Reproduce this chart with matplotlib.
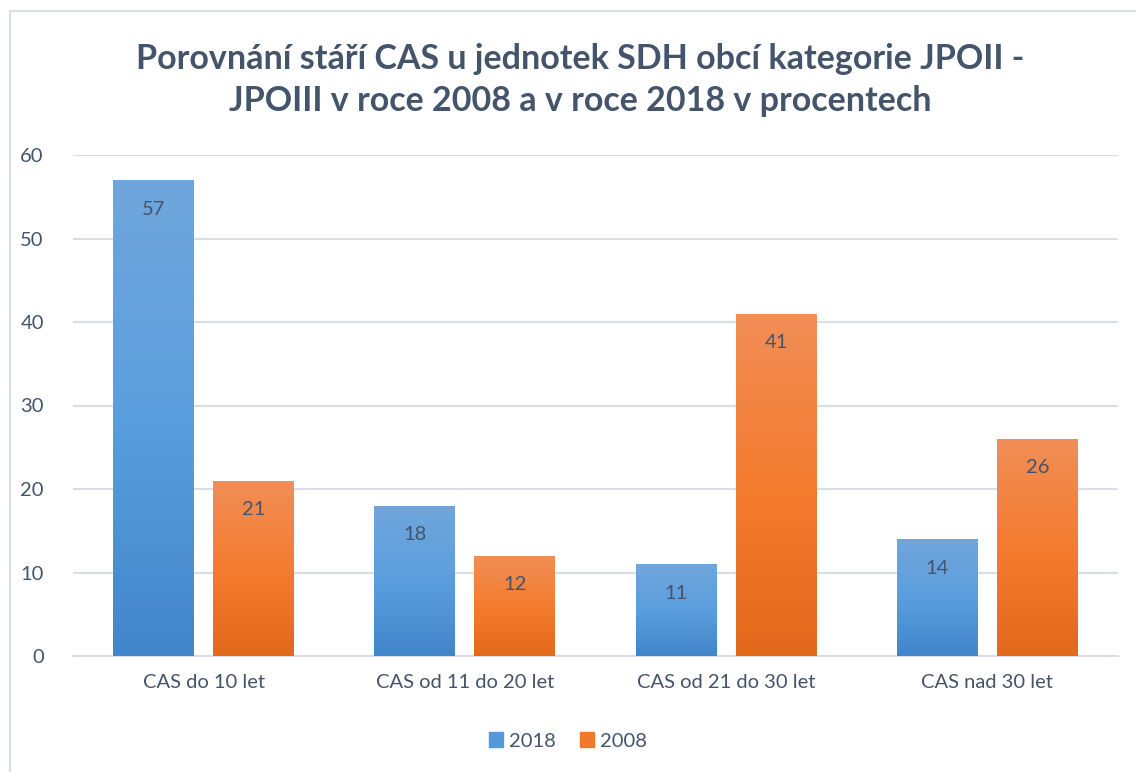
import numpy as np
import matplotlib
matplotlib.use('Agg')
import matplotlib.pyplot as plt
from matplotlib.patches import Rectangle
from matplotlib.colors import LinearSegmentedColormap

# Data
categories = ['CAS do 10 let', 'CAS od 11 do 20 let', 'CAS od 21 do 30 let', 'CAS nad 30 let']
series_names = ['2018', '2008']
values_2018 = [57, 18, 11, 14]
values_2008 = [21, 12, 41, 26]
title = 'Porovnání stáří CAS u jednotek SDH obcí kategorie JPOII -\nJPOIII v roce 2008 a v roce 2018 v procentech'

plt.rcParams['font.family'] = ['Lato', 'DejaVu Sans']
text_col = '#44546A'
grid_col = '#D9DEE5'
fs = 14.5

fig = plt.figure(figsize=(11.36, 7.72), dpi=100)
ax = fig.add_axes([73 / 1136, 1 - 656 / 772, (1118 - 73) / 1136, (656 - 155) / 772])

# chart frame (cropped at right and bottom in the reference)
fig.patches.append(Rectangle((10 / 1136, -0.05), 1.2, 1 - 11 / 772 + 0.05,
                             transform=fig.transFigure, fill=False,
                             edgecolor=grid_col, linewidth=1.5))

x = np.arange(len(categories))
w = 0.31
gap = 0.073
off = (w + gap) / 2

grads = {
    '2018': LinearSegmentedColormap.from_list('b', ['#4186C9', '#5B9EDE', '#70A6DC']),
    '2008': LinearSegmentedColormap.from_list('o', ['#E2691A', '#F47C30', '#F18E56']),
}
solid = {'2018': '#5B9BD5', '2008': '#ED7D31'}

grad_img = np.linspace(0, 1, 256).reshape(-1, 1)
for name, vals, dx in [('2018', values_2018, -off), ('2008', values_2008, off)]:
    bars = ax.bar(x + dx, vals, width=w, color=solid[name], label=name, zorder=2)
    for b, v in zip(bars, vals):
        x0, y0 = b.get_x(), b.get_y()
        im = ax.imshow(grad_img, cmap=grads[name], origin='lower', aspect='auto',
                       extent=(x0, x0 + b.get_width(), y0, y0 + b.get_height()),
                       zorder=3)
        im.set_clip_path(b)
        ax.annotate(str(v), (b.get_x() + b.get_width() / 2, v), xytext=(0, -29),
                    textcoords='offset pixels',
                    ha='center', va='center', fontsize=fs, color=text_col, zorder=4)

ax.set_xlim(-0.5, len(categories) - 0.5)
ax.set_ylim(0, 60)
ax.set_yticks(range(0, 61, 10))
ax.set_xticks(x)
ax.set_xticklabels(categories)
ax.tick_params(axis='both', length=0, labelsize=fs, labelcolor=text_col)
ax.tick_params(axis='y', pad=21)
ax.tick_params(axis='x', pad=13)
ax.grid(axis='y', color=grid_col, linewidth=1.5, zorder=0)
ax.set_axisbelow(True)
for s in ['top', 'right', 'left']:
    ax.spines[s].set_visible(False)
ax.spines['bottom'].set_color(grid_col)
ax.spines['bottom'].set_linewidth(1.5)

fig.text(580 / 1136, 1 - 80 / 772, title, ha='center', va='center', fontsize=24.5,
         fontweight='bold', color=text_col, linespacing=1.38)

handles = [Rectangle((0, 0), 1, 1, color=grads[n](0.4)) for n in series_names]
fig.legend(handles, series_names, loc='center', bbox_to_anchor=(0.5, 1 - 741 / 772),
           ncol=2, frameon=False, fontsize=fs, labelcolor=text_col,
           handlelength=0.7, handleheight=0.7, handletextpad=0.3, columnspacing=1.2)

fig.savefig('out.png', dpi=100)
